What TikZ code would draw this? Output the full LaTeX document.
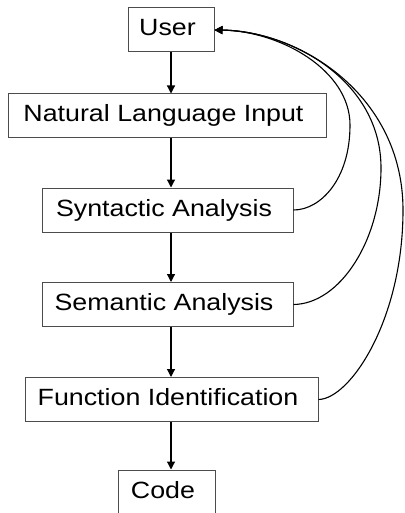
\documentclass[tikz,border=0pt]{standalone}
\usepackage{fontspec}
\setmainfont{Liberation Sans}[FakeStretch=1.14]
\usetikzlibrary{arrows.meta}
\begin{document}
\begin{tikzpicture}[x=1pt,y=-1pt,
  stage/.style={draw=black!70, line width=1pt, fill=white, inner sep=0pt,
    minimum height=44pt, text height=17pt, text depth=5pt,
    font=\fontsize{23.5}{28}\selectfont,
    execute at end node=\hspace*{7pt}},
  flow/.style={draw=black, line width=1.2pt,
    -{Triangle[length=8pt,width=8pt]}},
  feedback/.style={draw=black, line width=1.1pt,
    -{Triangle[length=8pt,width=8pt]}}]
\useasboundingbox (0,0) rectangle (404,513);

% pipeline stages
\node[stage, minimum width=86pt]  (user) at (171,30)    {User};
\node[stage, minimum width=318pt] (nli)  at (167,116)   {Natural Language Input};
\node[stage, minimum width=251pt] (syn)  at (167.5,210) {Syntactic Analysis};
\node[stage, minimum width=251pt] (sem)  at (167.5,304.5) {Semantic Analysis};
\node[stage, minimum width=293pt] (fun)  at (171.5,399.5) {Function Identification};
\node[stage, minimum width=97pt]  (code) at (166.5,492) {Code};

% common vertical axis of the downward arrows
\coordinate (axis) at (171,0);

\draw[flow] (user.south -| axis) -- (nli.north -| axis);
\draw[flow] (nli.south -| axis)  -- (syn.north -| axis);
\draw[flow] (syn.south -| axis)  -- (sem.north -| axis);
\draw[flow] (sem.south -| axis)  -- (fun.north -| axis);
\draw[flow] (fun.south -| axis)  -- (code.north -| axis);

% feedback loops back to the user
\coordinate (k1) at (350,125);
\coordinate (k2) at (381,168);
\coordinate (k3) at (403,210);

\draw[feedback] (syn.east) .. controls (320,210) and (350,180) .. (k1)
  .. controls (350,70) and (280,31) .. (user.east);
\draw[feedback] (sem.east) .. controls (340,304) and (381,240) .. (k2)
  .. controls (381,80) and (290,31) .. (user.east);
\draw[feedback] (fun.east) .. controls (350,399) and (403,320) .. (k3)
  .. controls (403,95) and (300,31) .. (user.east);
\end{tikzpicture}
\end{document}
